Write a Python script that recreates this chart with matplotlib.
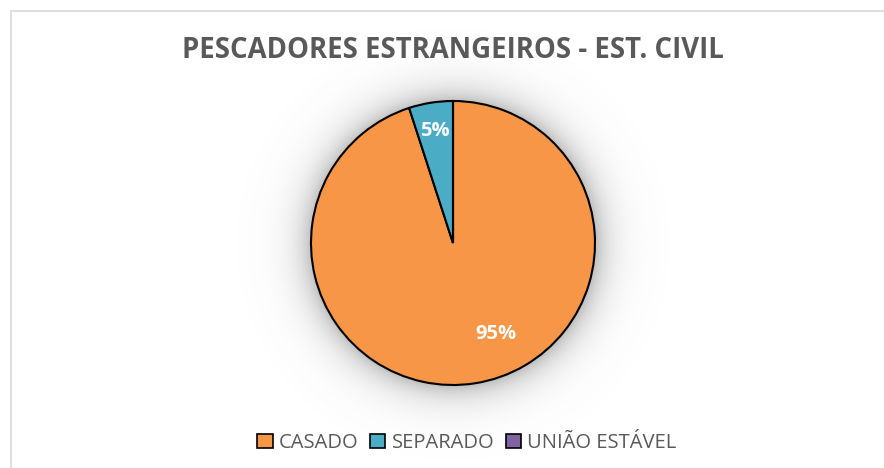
import numpy as np
import matplotlib.pyplot as plt
from matplotlib.patches import Patch, Rectangle

categories = ["CASADO", "SEPARADO", "UNIÃO ESTÁVEL"]
values = [95, 5, 0]
colors = ["#F79646", "#4BACC6", "#8064A2"]
title = "PESCADORES ESTRANGEIROS - EST. CIVIL"

plt.rcParams['font.family'] = ['Open Sans', 'DejaVu Sans']

W, H = 884, 468
fig = plt.figure(figsize=(W / 100, H / 100), dpi=100)
ax = fig.add_axes([0, 0, 1, 1])

cx, cy, r = 453, H - 243, 142

# soft shadow around the pie
yy, xx = np.mgrid[0:H, 0:W]
d = np.hypot(xx - cx, (H - yy) - cy)
glow = np.clip(np.exp(-(d - r) / 16.0), 0, 1) * (d > r - 2)
rgba = np.zeros((H, W, 4))
rgba[..., :3] = 0.4
rgba[..., 3] = glow * 0.42
ax.imshow(rgba, extent=(0, W, 0, H), origin='upper', zorder=0)


def pct(p):
    return f"{p:.0f}%" if p > 0 else ""


wedges, texts, autotexts = ax.pie(
    values, colors=colors, startangle=90, counterclock=False,
    center=(cx, cy), radius=r, autopct=pct, pctdistance=0.8,
    wedgeprops=dict(edgecolor='black', linewidth=1.5),
    textprops=dict(color='white', fontsize=14.5, fontweight='bold'))
autotexts[0].set_position((cx + 0.3 * r, cy - 0.64 * r))
for w in wedges:
    w.set_zorder(2)

ax.set_xlim(0, W)
ax.set_ylim(0, H)
ax.set_aspect('auto')
ax.axis('off')

# chart border
fig.patches.append(Rectangle((10.5 / W, -0.1), 1.2, 1 - 10.5 / H + 0.1,
                             transform=fig.transFigure, fill=False,
                             edgecolor='#d9d9d9', linewidth=1.2))

fig.text(453 / W, 1 - 50 / H, title, ha='center', va='center',
         fontsize=19.8, fontweight='bold', color='#595959')

handles = [Patch(facecolor=c, edgecolor='black', linewidth=1.2) for c in colors]
fig.legend(handles, categories, loc='center', bbox_to_anchor=(467 / W, 1 - 443 / H),
           ncol=3, frameon=False, fontsize=14.5, labelcolor='#595959',
           handlelength=0.75, handleheight=0.75, handletextpad=0.3,
           columnspacing=0.6)

fig.savefig("out.png", dpi=100)
